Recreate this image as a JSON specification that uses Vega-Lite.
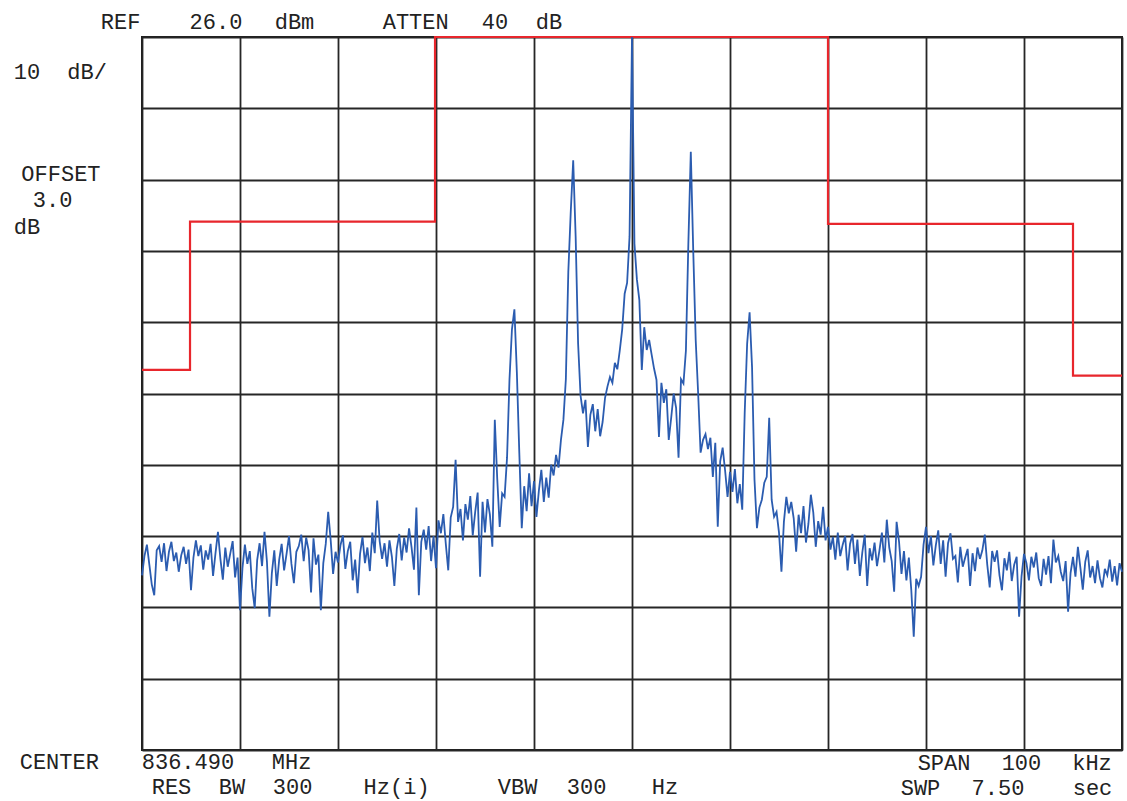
{
"$schema": "https://vega.github.io/schema/vega-lite/v6.json",
"width": 980, "height": 713,
"autosize": {"type": "none"},
"padding": {"left": 142, "top": 37, "right": 5, "bottom": 51},
"background": "white",
"config": {"view": {"stroke": "#1e1e1e", "strokeWidth": 2}, "text": {"font": "Liberation Mono", "fontSize": 22, "color": "#222222", "baseline": "middle", "align": "center"}},
"datasets": {
"one": [{"n": 1}],
"mask": [{"f":-50,"lim":-20.7},{"f":-45.1,"lim":0.1},{"f":-20.1,"lim":26},{"f":20,"lim":-0.2},{"f":45,"lim":-21.5},{"f":50,"lim":-21.5}],
"trace": [
{"f":-50,"p":-49.5},{"f":-49.75,"p":-46.8},{"f":-49.5,"p":-45.2},{"f":-49.25,"p":-48.0},
{"f":-49,"p":-50.8},{"f":-48.75,"p":-52.3},{"f":-48.5,"p":-46.0},{"f":-48.25,"p":-45.4},
{"f":-48,"p":-47.6},{"f":-47.75,"p":-45.0},{"f":-47.5,"p":-48.9},{"f":-47.25,"p":-46.2},
{"f":-47,"p":-44.8},{"f":-46.75,"p":-47.5},{"f":-46.5,"p":-46.3},{"f":-46.25,"p":-49.0},
{"f":-46,"p":-46.7},{"f":-45.75,"p":-45.5},{"f":-45.5,"p":-47.9},{"f":-45.25,"p":-45.9},
{"f":-45,"p":-51.6},{"f":-44.75,"p":-47.0},{"f":-44.5,"p":-44.6},{"f":-44.25,"p":-46.8},
{"f":-44,"p":-45.3},{"f":-43.75,"p":-48.7},{"f":-43.5,"p":-46.0},{"f":-43.25,"p":-47.3},
{"f":-43,"p":-45.1},{"f":-42.75,"p":-49.6},{"f":-42.5,"p":-46.4},{"f":-42.25,"p":-43.4},
{"f":-42,"p":-47.2},{"f":-41.75,"p":-50.1},{"f":-41.5,"p":-45.6},{"f":-41.25,"p":-48.3},
{"f":-41,"p":-46.5},{"f":-40.75,"p":-44.7},{"f":-40.5,"p":-49.8},{"f":-40.25,"p":-47.0},
{"f":-40,"p":-54.4},{"f":-39.75,"p":-48.5},{"f":-39.5,"p":-45.2},{"f":-39.25,"p":-47.9},
{"f":-39,"p":-46.1},{"f":-38.75,"p":-51.3},{"f":-38.5,"p":-54.1},{"f":-38.25,"p":-47.4},
{"f":-38,"p":-45.0},{"f":-37.75,"p":-48.2},{"f":-37.5,"p":-43.4},{"f":-37.25,"p":-47.6},
{"f":-37,"p":-55.3},{"f":-36.75,"p":-49.2},{"f":-36.5,"p":-46.0},{"f":-36.25,"p":-51.0},
{"f":-36,"p":-47.3},{"f":-35.75,"p":-45.1},{"f":-35.5,"p":-48.8},{"f":-35.25,"p":-46.5},
{"f":-35,"p":-44.0},{"f":-34.75,"p":-47.9},{"f":-34.5,"p":-50.6},{"f":-34.25,"p":-46.2},
{"f":-34,"p":-45.4},{"f":-33.75,"p":-43.8},{"f":-33.5,"p":-47.5},{"f":-33.25,"p":-44.2},
{"f":-33,"p":-46.0},{"f":-32.75,"p":-51.9},{"f":-32.5,"p":-44.3},{"f":-32.25,"p":-48.0},
{"f":-32,"p":-46.6},{"f":-31.75,"p":-54.4},{"f":-31.5,"p":-47.8},{"f":-31.25,"p":-45.1},
{"f":-31,"p":-40.6},{"f":-30.75,"p":-44.5},{"f":-30.5,"p":-49.3},{"f":-30.25,"p":-46.2},
{"f":-30,"p":-47.7},{"f":-29.75,"p":-45.3},{"f":-29.5,"p":-43.9},{"f":-29.25,"p":-48.6},
{"f":-29,"p":-46.1},{"f":-28.75,"p":-44.8},{"f":-28.5,"p":-50.2},{"f":-28.25,"p":-47.3},
{"f":-28,"p":-52.0},{"f":-27.75,"p":-46.5},{"f":-27.5,"p":-44.1},{"f":-27.25,"p":-47.8},
{"f":-27,"p":-45.6},{"f":-26.75,"p":-48.9},{"f":-26.5,"p":-43.5},{"f":-26.25,"p":-46.4},
{"f":-26,"p":-39.0},{"f":-25.75,"p":-44.7},{"f":-25.5,"p":-47.2},{"f":-25.25,"p":-45.0},
{"f":-25,"p":-48.3},{"f":-24.75,"p":-44.6},{"f":-24.5,"p":-46.9},{"f":-24.25,"p":-51.0},
{"f":-24,"p":-45.8},{"f":-23.75,"p":-43.7},{"f":-23.5,"p":-47.4},{"f":-23.25,"p":-44.2},
{"f":-23,"p":-46.3},{"f":-22.75,"p":-42.9},{"f":-22.5,"p":-45.5},{"f":-22.25,"p":-48.7},
{"f":-22,"p":-40.0},{"f":-21.75,"p":-52.3},{"f":-21.5,"p":-44.8},{"f":-21.25,"p":-43.1},
{"f":-21,"p":-45.9},{"f":-20.75,"p":-42.6},{"f":-20.5,"p":-47.5},{"f":-20.25,"p":-44.0},
{"f":-20,"p":-48.5},{"f":-19.75,"p":-41.8},{"f":-19.5,"p":-43.6},{"f":-19.25,"p":-40.9},
{"f":-19,"p":-45.1},{"f":-18.75,"p":-48.8},{"f":-18.5,"p":-41.4},{"f":-18.25,"p":-39.9},
{"f":-18,"p":-33.3},{"f":-17.75,"p":-42.0},{"f":-17.5,"p":-40.2},{"f":-17.25,"p":-44.6},
{"f":-17,"p":-39.5},{"f":-16.75,"p":-41.7},{"f":-16.5,"p":-38.4},{"f":-16.25,"p":-43.9},
{"f":-16,"p":-40.6},{"f":-15.75,"p":-37.9},{"f":-15.5,"p":-49.7},{"f":-15.25,"p":-39.2},
{"f":-15,"p":-43.5},{"f":-14.75,"p":-38.8},{"f":-14.5,"p":-41.0},{"f":-14.25,"p":-45.5},
{"f":-14,"p":-27.7},{"f":-13.75,"p":-36.0},{"f":-13.5,"p":-42.7},{"f":-13.25,"p":-38.0},
{"f":-13,"p":-38.5},{"f":-12.75,"p":-33.0},{"f":-12.5,"p":-22.0},{"f":-12.25,"p":-15.0},
{"f":-12,"p":-12.2},{"f":-11.75,"p":-21.0},{"f":-11.5,"p":-32.3},{"f":-11.25,"p":-42.9},
{"f":-11,"p":-37.0},{"f":-10.75,"p":-40.5},{"f":-10.5,"p":-35.2},{"f":-10.25,"p":-39.8},
{"f":-10,"p":-36.3},{"f":-9.75,"p":-41.3},{"f":-9.5,"p":-37.6},{"f":-9.25,"p":-34.7},
{"f":-9,"p":-39.2},{"f":-8.75,"p":-35.8},{"f":-8.5,"p":-38.6},{"f":-8.25,"p":-34.0},
{"f":-8,"p":-35.5},{"f":-7.75,"p":-32.6},{"f":-7.5,"p":-34.4},{"f":-7.25,"p":-30.5},
{"f":-7,"p":-27.7},{"f":-6.75,"p":-22.0},{"f":-6.5,"p":-7.0},{"f":-6.25,"p":1.5},
{"f":-6,"p":8.7},{"f":-5.75,"p":-2.0},{"f":-5.5,"p":-17.0},{"f":-5.25,"p":-24.3},
{"f":-5,"p":-26.8},{"f":-4.75,"p":-24.9},{"f":-4.5,"p":-31.5},{"f":-4.25,"p":-27.0},
{"f":-4,"p":-25.5},{"f":-3.75,"p":-29.3},{"f":-3.5,"p":-26.2},{"f":-3.25,"p":-30.0},
{"f":-3,"p":-28.0},{"f":-2.75,"p":-24.6},{"f":-2.5,"p":-23.0},{"f":-2.25,"p":-21.7},
{"f":-2,"p":-22.5},{"f":-1.75,"p":-19.7},{"f":-1.5,"p":-20.6},{"f":-1.25,"p":-18.0},
{"f":-1,"p":-15.0},{"f":-0.75,"p":-10.0},{"f":-0.5,"p":-8.5},{"f":-0.25,"p":-2.0},
{"f":0,"p":26.0},{"f":0.25,"p":-3.0},{"f":0.5,"p":-8.0},{"f":0.75,"p":-10.9},
{"f":1,"p":-20.7},{"f":1.25,"p":-14.7},{"f":1.5,"p":-17.9},{"f":1.75,"p":-16.5},
{"f":2,"p":-18.5},{"f":2.25,"p":-20.5},{"f":2.5,"p":-22.1},{"f":2.75,"p":-30.1},
{"f":3,"p":-22.5},{"f":3.25,"p":-25.3},{"f":3.5,"p":-23.4},{"f":3.75,"p":-30.5},
{"f":4,"p":-27.4},{"f":4.25,"p":-24.0},{"f":4.5,"p":-26.0},{"f":4.75,"p":-33.0},
{"f":5,"p":-22.0},{"f":5.25,"p":-22.6},{"f":5.5,"p":-18.0},{"f":5.75,"p":-3.0},
{"f":6,"p":9.9},{"f":6.25,"p":-4.0},{"f":6.5,"p":-16.5},{"f":6.75,"p":-24.0},
{"f":7,"p":-32.3},{"f":7.25,"p":-30.5},{"f":7.5,"p":-29.7},{"f":7.75,"p":-31.8},
{"f":8,"p":-30.2},{"f":8.25,"p":-35.7},{"f":8.5,"p":-30.9},{"f":8.75,"p":-42.7},
{"f":9,"p":-33.5},{"f":9.25,"p":-31.6},{"f":9.5,"p":-34.8},{"f":9.75,"p":-38.5},
{"f":10,"p":-35.0},{"f":10.25,"p":-37.8},{"f":10.5,"p":-34.6},{"f":10.75,"p":-39.4},
{"f":11,"p":-36.7},{"f":11.25,"p":-40.3},{"f":11.5,"p":-26.7},{"f":11.75,"p":-17.0},
{"f":12,"p":-12.6},{"f":12.25,"p":-20.3},{"f":12.5,"p":-36.1},{"f":12.75,"p":-42.9},
{"f":13,"p":-40.0},{"f":13.25,"p":-38.9},{"f":13.5,"p":-36.5},{"f":13.75,"p":-35.7},
{"f":14,"p":-27.4},{"f":14.25,"p":-38.9},{"f":14.5,"p":-41.3},{"f":14.75,"p":-40.6},
{"f":15,"p":-43.5},{"f":15.25,"p":-49.0},{"f":15.5,"p":-42.0},{"f":15.75,"p":-38.5},
{"f":16,"p":-40.8},{"f":16.25,"p":-39.2},{"f":16.5,"p":-41.5},{"f":16.75,"p":-46.2},
{"f":17,"p":-41.0},{"f":17.25,"p":-43.6},{"f":17.5,"p":-39.8},{"f":17.75,"p":-44.9},
{"f":18,"p":-42.3},{"f":18.25,"p":-38.2},{"f":18.5,"p":-40.7},{"f":18.75,"p":-45.5},
{"f":19,"p":-41.9},{"f":19.25,"p":-43.8},{"f":19.5,"p":-39.9},{"f":19.75,"p":-44.6},
{"f":20,"p":-42.7},{"f":20.25,"p":-45.9},{"f":20.5,"p":-44.1},{"f":20.75,"p":-47.3},
{"f":21,"p":-43.5},{"f":21.25,"p":-46.8},{"f":21.5,"p":-45.2},{"f":21.75,"p":-44.0},
{"f":22,"p":-48.8},{"f":22.25,"p":-45.1},{"f":22.5,"p":-43.7},{"f":22.75,"p":-47.9},
{"f":23,"p":-44.5},{"f":23.25,"p":-49.6},{"f":23.5,"p":-46.3},{"f":23.75,"p":-43.8},
{"f":24,"p":-51.0},{"f":24.25,"p":-45.7},{"f":24.5,"p":-47.4},{"f":24.75,"p":-44.9},
{"f":25,"p":-48.2},{"f":25.25,"p":-46.0},{"f":25.5,"p":-43.5},{"f":25.75,"p":-47.7},
{"f":26,"p":-41.7},{"f":26.25,"p":-45.6},{"f":26.5,"p":-47.5},{"f":26.75,"p":-51.8},
{"f":27,"p":-42.0},{"f":27.25,"p":-44.8},{"f":27.5,"p":-49.3},{"f":27.75,"p":-46.1},
{"f":28,"p":-50.2},{"f":28.25,"p":-47.0},{"f":28.5,"p":-51.6},{"f":28.75,"p":-58.1},
{"f":29,"p":-50.0},{"f":29.25,"p":-51.0},{"f":29.5,"p":-49.7},{"f":29.75,"p":-45.2},
{"f":30,"p":-42.7},{"f":30.25,"p":-46.4},{"f":30.5,"p":-44.0},{"f":30.75,"p":-48.1},
{"f":31,"p":-45.3},{"f":31.25,"p":-43.2},{"f":31.5,"p":-47.9},{"f":31.75,"p":-44.6},
{"f":32,"p":-49.7},{"f":32.25,"p":-45.0},{"f":32.5,"p":-43.6},{"f":32.75,"p":-47.2},
{"f":33,"p":-46.8},{"f":33.25,"p":-50.5},{"f":33.5,"p":-45.5},{"f":33.75,"p":-48.3},
{"f":34,"p":-47.0},{"f":34.25,"p":-45.8},{"f":34.5,"p":-51.0},{"f":34.75,"p":-46.4},
{"f":35,"p":-48.9},{"f":35.25,"p":-45.6},{"f":35.5,"p":-47.2},{"f":35.75,"p":-46.0},
{"f":36,"p":-43.8},{"f":36.25,"p":-48.0},{"f":36.5,"p":-51.2},{"f":36.75,"p":-46.1},
{"f":37,"p":-47.6},{"f":37.25,"p":-46.0},{"f":37.5,"p":-49.5},{"f":37.75,"p":-51.6},
{"f":38,"p":-47.1},{"f":38.25,"p":-48.8},{"f":38.5,"p":-46.2},{"f":38.75,"p":-50.3},
{"f":39,"p":-48.0},{"f":39.25,"p":-46.9},{"f":39.5,"p":-55.3},{"f":39.75,"p":-49.6},
{"f":40,"p":-46.5},{"f":40.25,"p":-47.8},{"f":40.5,"p":-50.2},{"f":40.75,"p":-46.9},
{"f":41,"p":-48.4},{"f":41.25,"p":-46.3},{"f":41.5,"p":-49.9},{"f":41.75,"p":-51.0},
{"f":42,"p":-47.2},{"f":42.25,"p":-49.4},{"f":42.5,"p":-46.8},{"f":42.75,"p":-50.6},
{"f":43,"p":-44.5},{"f":43.25,"p":-47.7},{"f":43.5,"p":-46.8},{"f":43.75,"p":-49.0},
{"f":44,"p":-50.3},{"f":44.25,"p":-47.5},{"f":44.5,"p":-54.6},{"f":44.75,"p":-49.2},
{"f":45,"p":-46.9},{"f":45.25,"p":-49.7},{"f":45.5,"p":-45.5},{"f":45.75,"p":-48.4},
{"f":46,"p":-51.5},{"f":46.25,"p":-47.6},{"f":46.5,"p":-46.0},{"f":46.75,"p":-49.8},
{"f":47,"p":-48.2},{"f":47.25,"p":-50.6},{"f":47.5,"p":-47.4},{"f":47.75,"p":-49.9},
{"f":48,"p":-51.2},{"f":48.25,"p":-48.6},{"f":48.5,"p":-49.5},{"f":48.75,"p":-47.3},
{"f":49,"p":-50.4},{"f":49.25,"p":-48.2},{"f":49.5,"p":-50.9},{"f":49.75,"p":-47.8},
{"f":50,"p":-49.0}
]
},
"resolve": {"scale": {"x": "shared", "y": "shared"}},
"layer": [
{
"data": {"name": "mask"},
"mark": {"type": "line", "interpolate": "step-after", "color": "#e8262c", "strokeWidth": 2.2},
"encoding": {
"x": {"field": "f", "type": "quantitative", "scale": {"domain": [-50, 50], "nice": false, "zero": false},
"axis": {"values": [-50,-40,-30,-20,-10,0,10,20,30,40,50], "labels": false, "ticks": false, "domain": false, "title": null, "grid": true, "gridColor": "#262626", "gridWidth": 1.8, "gridOpacity": 1}},
"y": {"field": "lim", "type": "quantitative", "scale": {"domain": [-74, 26], "nice": false, "zero": false},
"axis": {"values": [-74,-64,-54,-44,-34,-24,-14,-4,6,16,26], "labels": false, "ticks": false, "domain": false, "title": null, "grid": true, "gridColor": "#262626", "gridWidth": 1.8, "gridOpacity": 1}}
}
},
{
"data": {"name": "trace"},
"mark": {"type": "line", "color": "#2b5cb0", "strokeWidth": 1.8},
"encoding": {
"x": {"field": "f", "type": "quantitative"},
"y": {"field": "p", "type": "quantitative"}
}
},
{"data": {"name": "one"}, "mark": {"type": "text", "text": "REF"}, "encoding": {"x": {"datum": -52.19}, "y": {"datum": 28.1}}},
{"data": {"name": "one"}, "mark": {"type": "text", "text": "26.0"}, "encoding": {"x": {"datum": -42.45}, "y": {"datum": 28.1}}},
{"data": {"name": "one"}, "mark": {"type": "text", "text": "dBm"}, "encoding": {"x": {"datum": -34.44}, "y": {"datum": 28.1}}},
{"data": {"name": "one"}, "mark": {"type": "text", "text": "ATTEN"}, "encoding": {"x": {"datum": -22.07}, "y": {"datum": 28.1}}},
{"data": {"name": "one"}, "mark": {"type": "text", "text": "40"}, "encoding": {"x": {"datum": -13.99}, "y": {"datum": 28.1}}},
{"data": {"name": "one"}, "mark": {"type": "text", "text": "dB"}, "encoding": {"x": {"datum": -8.47}, "y": {"datum": 28.1}}},
{"data": {"name": "one"}, "mark": {"type": "text", "text": "10"}, "encoding": {"x": {"datum": -61.74}, "y": {"datum": 21.09}}},
{"data": {"name": "one"}, "mark": {"type": "text", "text": "dB/"}, "encoding": {"x": {"datum": -55.61}, "y": {"datum": 21.09}}},
{"data": {"name": "one"}, "mark": {"type": "text", "text": "OFFSET"}, "encoding": {"x": {"datum": -58.27}, "y": {"datum": 6.8}}},
{"data": {"name": "one"}, "mark": {"type": "text", "text": "3.0"}, "encoding": {"x": {"datum": -59.13}, "y": {"datum": 3.14}}},
{"data": {"name": "one"}, "mark": {"type": "text", "text": "dB"}, "encoding": {"x": {"datum": -61.73}, "y": {"datum": -0.65}}},
{"data": {"name": "one"}, "mark": {"type": "text", "text": "CENTER"}, "encoding": {"x": {"datum": -58.44}, "y": {"datum": -75.68}}},
{"data": {"name": "one"}, "mark": {"type": "text", "text": "836.490"}, "encoding": {"x": {"datum": -45.31}, "y": {"datum": -75.68}}},
{"data": {"name": "one"}, "mark": {"type": "text", "text": "MHz"}, "encoding": {"x": {"datum": -34.74}, "y": {"datum": -75.68}}},
{"data": {"name": "one"}, "mark": {"type": "text", "text": "RES"}, "encoding": {"x": {"datum": -46.99}, "y": {"datum": -79.12}}},
{"data": {"name": "one"}, "mark": {"type": "text", "text": "BW"}, "encoding": {"x": {"datum": -40.82}, "y": {"datum": -79.12}}},
{"data": {"name": "one"}, "mark": {"type": "text", "text": "300"}, "encoding": {"x": {"datum": -34.64}, "y": {"datum": -79.12}}},
{"data": {"name": "one"}, "mark": {"type": "text", "text": "Hz(i)"}, "encoding": {"x": {"datum": -24.02}, "y": {"datum": -79.12}}},
{"data": {"name": "one"}, "mark": {"type": "text", "text": "VBW"}, "encoding": {"x": {"datum": -11.68}, "y": {"datum": -79.12}}},
{"data": {"name": "one"}, "mark": {"type": "text", "text": "300"}, "encoding": {"x": {"datum": -4.64}, "y": {"datum": -79.12}}},
{"data": {"name": "one"}, "mark": {"type": "text", "text": "Hz"}, "encoding": {"x": {"datum": 3.37}, "y": {"datum": -79.12}}},
{"data": {"name": "one"}, "mark": {"type": "text", "text": "SPAN"}, "encoding": {"x": {"datum": 31.84}, "y": {"datum": -75.82}}},
{"data": {"name": "one"}, "mark": {"type": "text", "text": "100"}, "encoding": {"x": {"datum": 39.74}, "y": {"datum": -75.82}}},
{"data": {"name": "one"}, "mark": {"type": "text", "text": "kHz"}, "encoding": {"x": {"datum": 46.94}, "y": {"datum": -75.82}}},
{"data": {"name": "one"}, "mark": {"type": "text", "text": "SWP"}, "encoding": {"x": {"datum": 29.44}, "y": {"datum": -79.26}}},
{"data": {"name": "one"}, "mark": {"type": "text", "text": "7.50"}, "encoding": {"x": {"datum": 37.35}, "y": {"datum": -79.26}}},
{"data": {"name": "one"}, "mark": {"type": "text", "text": "sec"}, "encoding": {"x": {"datum": 46.99}, "y": {"datum": -79.26}}}
]
}
